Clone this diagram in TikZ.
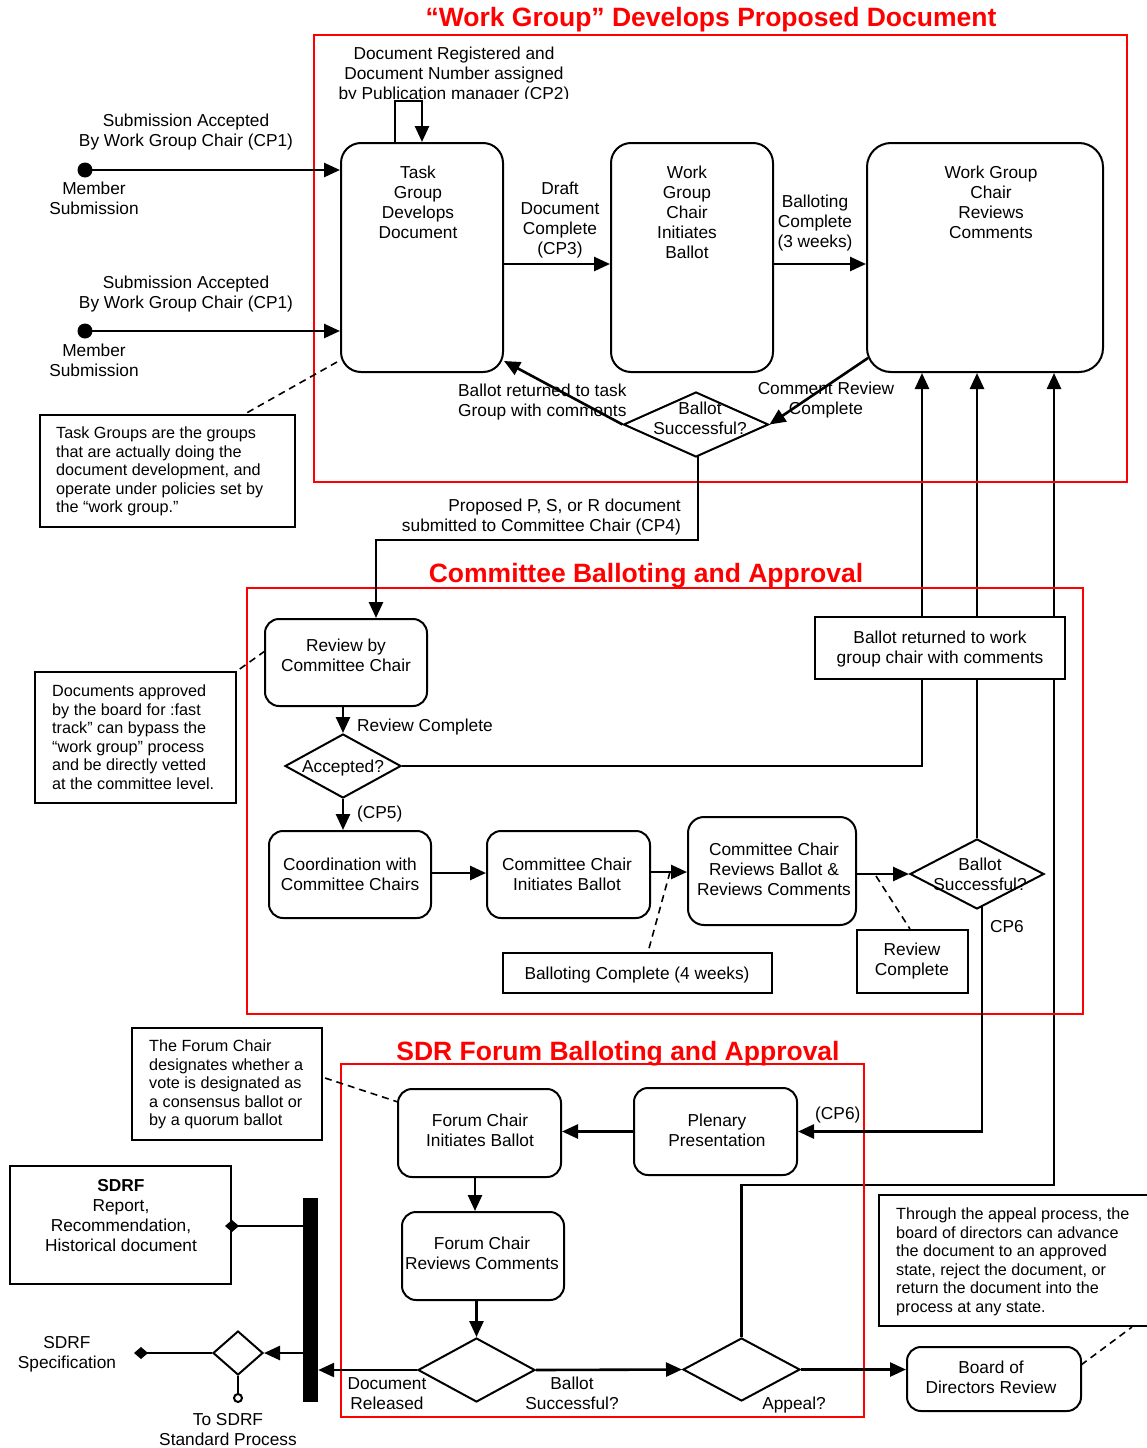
\documentclass[tikz,border=0pt]{standalone}
\usepackage{fontspec}
\setmainfont{Liberation Sans}
\usetikzlibrary{arrows.meta,shapes.geometric,calc}
\pgfdeclarelayer{bg}
\pgfsetlayers{bg,main}
\tikzset{
 frame/.style={draw=red,line width=2pt},
 ttl/.style={text=red,font=\bfseries\fontsize{26.5}{30}\selectfont,inner sep=0pt,anchor=north},
 rbox/.style={draw,line width=2pt,rounded corners=#1,inner sep=0pt,fill=white},
 rbox/.default=14pt,
 sbox/.style={draw,line width=2pt,inner sep=0pt,fill=white},
 dmd/.style={diamond,draw,line width=2pt,inner sep=0pt,fill=white},
 txt/.style={font=\fontsize{17.3}{20}\selectfont,align=center,inner sep=0pt,anchor=north},
 lbl/.style={txt,anchor=north west,align=left},
 lblr/.style={txt,anchor=north east,align=right},
 note/.style={font=\fontsize{16.2}{18.5}\selectfont,align=left,inner sep=0pt,anchor=north west},
 conn/.style={line width=2.6pt,-{Triangle[length=16pt,width=14pt]}},
 plain/.style={line width=2.6pt},
 leader/.style={line width=1.6pt,dash pattern=on 7pt off 5pt},
 dot/.style={circle,fill,minimum size=15pt,inner sep=0pt},
}
\begin{document}
\begin{tikzpicture}[x=1pt,y=-1pt]
\useasboundingbox (0,0) rectangle (1146,1448);
% frames
\draw[frame] (314,35) rectangle (1127,482);
\draw[frame] (247,588) rectangle (1083,1014);
\draw[frame] (341,1064) rectangle (864,1417);
% titles
\node[ttl] (ttl1) at (711,7) {“Work Group” Develops Proposed Document};
\node[ttl] (ttl2) at (646,563) {Committee Balloting and Approval};
\node[ttl] (ttl3) at (618,1041) {SDR Forum Balloting and Approval};

% ---------- section 1 ----------
\node[rbox=20pt,minimum width=162pt,minimum height=229pt] (task) at (422,257.5) {};
\node[rbox=20pt,minimum width=162pt,minimum height=229pt] (wgi) at (692,257.5) {};
\node[rbox=24pt,minimum width=236pt,minimum height=229pt] (wgr) at (985,257.5) {};
\node[dmd,minimum width=145pt,minimum height=65pt] (d1) at (696,424.5) {};
\node[sbox,minimum width=255pt,minimum height=112pt] (tga) at (167.5,471) {};
\node[dot] (ms1) at (85,170) {};
\node[dot] (ms2) at (85,331) {};

\node[txt] (tasktx) at (418,166) {Task\\Group\\Develops\\Document};
\node[txt] (wgitx) at (687,166) {Work\\Group\\Chair\\Initiates\\Ballot};
\node[txt] (wgrtx) at (991,166) {Work Group\\Chair\\Reviews\\Comments};
\node[txt] (d1tx) at (700,402) {Ballot\\Successful?};
\begin{scope}
\clip (320,36) rectangle (620,98.5);
\node[txt] (regtx) at (454,47) {Document Registered and\\Document Number assigned\\by Publication manager (CP2)};
\end{scope}
\node[txt] (sa1) at (186,114) {Submission Accepted\\By Work Group Chair (CP1)};
\node[txt] (mst1) at (94,182) {Member\\Submission};
\node[txt] (sa2) at (186,276) {Submission Accepted\\By Work Group Chair (CP1)};
\node[txt] (mst2) at (94,344) {Member\\Submission};
\node[txt] (draft) at (560,182) {Draft\\Document\\Complete\\(CP3)};
\node[txt] (balc) at (815,195) {Balloting\\Complete\\(3 weeks)};
\node[txt] (crc) at (826,382) {Comment Review\\Complete};
\node[lbl] (bret) at (458,384) {Ballot returned to task\\Group with comments};
\node[note] (tgatx) at (56,427) {Task Groups are the groups\\that are actually doing the\\document development, and\\operate under policies set by\\the “work group.”};
\node[lblr] (cp4tx) at (681,499) {Proposed P, S, or R document\\submitted to Committee Chair (CP4)};

\coordinate (loopA) at (395,101);
\coordinate (yDraft) at (0,264);
\coordinate (crcS) at (868,358);
\coordinate (taskC) at (504,361);
\coordinate (cp4) at (376,540);
\coordinate (d1B) at (698,455);
\coordinate (tgS) at (337,362);
\coordinate (tgE) at (243,415);

\draw[conn] (ms1.center) -- (ms1 -| task.west);
\draw[conn] (ms2.center) -- (ms2 -| task.west);
\draw[conn] (loopA |- task.north) -- (loopA) -| (task.north);
\draw[conn] (yDraft -| task.east) -- (yDraft -| wgi.west);
\draw[conn] (yDraft -| wgi.east) -- (yDraft -| wgr.west);
\draw[conn] (crcS) -- (d1.east);
\draw[conn] (d1.west) -- (taskC);
\draw[leader] (tgS) -- (tgE);

% ---------- section 2 ----------
\node[rbox,minimum width=162pt,minimum height=87pt] (rcc) at (346,662.5) {};
\node[sbox,minimum width=201pt,minimum height=131pt] (docs) at (135.5,737.5) {};
\node[dmd,minimum width=116pt,minimum height=64pt] (acc) at (343,766) {};
\node[sbox,minimum width=250pt,minimum height=62pt] (ret) at (940,648) {};
\node[rbox,minimum width=162pt,minimum height=87pt] (coord) at (350,874.5) {};
\node[rbox,minimum width=163pt,minimum height=87pt] (cci) at (568.5,874.5) {};
\node[rbox=16pt,minimum width=168pt,minimum height=108pt] (ccr) at (772,871) {};
\node[sbox,minimum width=269pt,minimum height=40pt] (bc4) at (637.5,973) {};
\node[sbox,minimum width=111pt,minimum height=63pt] (rvc) at (912.5,961.5) {};
\node[dmd,minimum width=134pt,minimum height=70pt] (d2) at (977,874) {};

\node[txt] (rcctx) at (346,639) {Review by\\Committee Chair};
\node[note] (docstx) at (52,685) {Documents approved\\by the board for :fast\\track” can bypass the\\“work group” process\\and be directly vetted\\at the committee level.};
\node[lbl] (rvctx1) at (357,719) {Review Complete};
\node[txt] (acctx) at (343,760) {Accepted?};
\node[lbl] (cp5) at (357,806) {(CP5)};
\node[txt] (rettx) at (940,631) {Ballot returned to work\\group chair with comments};
\node[txt] (coordtx) at (350,858) {Coordination with\\Committee Chairs};
\node[txt] (ccitx) at (567,858) {Committee Chair\\Initiates Ballot};
\node[txt] (ccrtx) at (774,843) {Committee Chair\\Reviews Ballot \&\\Reviews Comments};
\node[txt] (bc4tx) at (637,967) {Balloting Complete (4 weeks)};
\node[txt] (rvctx) at (912,943) {Review\\Complete};
\node[txt] (d2tx) at (980,858) {Ballot\\Successful?};
\node[lbl] (cp6a) at (990,920) {CP6};

\coordinate (l922) at (922,0);
\coordinate (c1054) at (1054,1185);
\coordinate (rccD) at (265,651);
\coordinate (bcS) at (670,872);
\coordinate (rvS) at (876,876);
\coordinate (yCci) at (0,873);
\coordinate (yCcr) at (0,872);
\coordinate (d2B) at (982,905);

\draw[conn] (d1B) |- (cp4) -- (cp4 |- rcc.north);
\draw[conn] (rcc.south -| acc.north) -- (acc.north);
\draw[conn] (acc.south) -- (acc.south |- coord.north);
\draw[conn] (yCci -| coord.east) -- (yCci -| cci.west);
\draw[conn] (yCcr -| cci.east) -- (yCcr -| ccr.west);
\draw[conn] (d2.west -| ccr.east) -- (d2.west);
\draw[leader] (rccD) -- (docs.north east);
\draw[leader] (bcS) -- (bc4.north -| 648,0);
\draw[leader] (rvS) -- (rvc.north -| 910,0);

% ---------- section 3 ----------
\node[sbox,minimum width=190pt,minimum height=112pt] (fann) at (227,1084) {};
\node[rbox,minimum width=163pt,minimum height=88pt] (fci) at (479.5,1133) {};
\node[rbox,minimum width=163pt,minimum height=87pt] (plen) at (715.5,1131.5) {};
\node[rbox,minimum width=162pt,minimum height=88pt] (frc) at (483,1256) {};
\node[dmd,minimum width=117pt,minimum height=64pt] (fd) at (476.5,1370) {};
\node[dmd,minimum width=117pt,minimum height=63pt] (app) at (741.5,1369.5) {};
\node[dmd,minimum width=50pt,minimum height=44pt] (sd) at (238,1353) {};
\node[sbox,minimum width=221pt,minimum height=118pt] (sdrf) at (120.5,1225) {};
\node[rbox,minimum width=174pt,minimum height=64pt] (board) at (994,1379) {};
\node[sbox,minimum width=281pt,minimum height=131pt] (apann) at (1019.5,1260.5) {};
\node[fill,minimum width=15pt,minimum height=204pt,inner sep=0pt] (bar) at (310.5,1300) {};

\node[note] (fanntx) at (149,1040) {The Forum Chair\\designates whether a\\vote is designated as\\a consensus ballot or\\by a quorum ballot};
\node[txt] (fcitx) at (480,1114) {Forum Chair\\Initiates Ballot};
\node[txt] (plentx) at (717,1114) {Plenary\\Presentation};
\node[lbl] (cp6b) at (815,1107) {(CP6)};
\node[txt] (frctx) at (482,1237) {Forum Chair\\Reviews Comments};
\node[txt] (sdrftx) at (121,1179) {\textbf{SDRF}\\Report,\\Recommendation,\\Historical document};
\node[txt] (drel) at (387,1377) {Document\\Released};
\node[txt] (bsuc) at (572,1377) {Ballot\\Successful?};
\node[txt] (apptx) at (794,1397) {Appeal?};
\node[txt] (spec) at (67,1336) {SDRF\\Specification};
\node[txt] (tosd) at (228,1413) {To SDRF\\Standard Process};
\node[txt] (boardtx) at (991,1361) {Board of\\Directors Review};
\node[note] (apanntx) at (896,1208) {Through the appeal process, the\\board of directors can advance\\the document to an approved\\state, reject the document, or\\return the document into the\\process at any state.};

\coordinate (fannS) at (325,1078);
\coordinate (fciD) at (398,1102);
\coordinate (boardD) at (1081,1365);
\coordinate (apE) at (1132,1327);
\coordinate (sdmark) at (134,1353);
\coordinate (sdcirc) at (238,1403);
\coordinate (ySdrf) at (0,1226);
\coordinate (ySd) at (0,1353);

\draw[conn] (d2B) |- (plen.east);
\draw[conn] (plen.west) -- (plen.west -| fci.east);
\draw[conn] (fci.south -| 475,0) -- (frc.north -| 475,0);
\draw[conn] (frc.south -| fd.north) -- (fd.north);
\draw[conn] (fd.west) -- (fd.west -| bar.east);
\draw[conn] (fd.east) -- (app.west);
\draw[conn] (app.east) -- (app.east -| board.west);
\draw[conn] (ySd -| bar.west) -- (sd.east);
\draw[plain,-{Diamond[length=14pt,width=12pt]}] (sd.west) -- (sdmark);
\draw[line width=2.5pt,-{Circle[open,length=10pt,width=10pt,line width=2pt]}] (sd.south) -- (sdcirc);
\draw[plain,{Diamond[length=14pt,width=12pt]}-] ([xshift=-7pt]ySdrf -| sdrf.east) -- (ySdrf -| bar.west);
\draw[leader] (fannS) -- (fciD);
\draw[leader] (boardD) -- (apE);

% long return lines (behind the "Ballot returned" box)
\begin{pgfonlayer}{bg}
\draw[conn] (acc.east) -| (l922 |- wgr.south);
\draw[conn] (d2.north) -- (d2.north |- wgr.south);
\draw[conn] (app.north) |- (c1054) -- (c1054 |- wgr.south);
\end{pgfonlayer}
\end{tikzpicture}
\end{document}
